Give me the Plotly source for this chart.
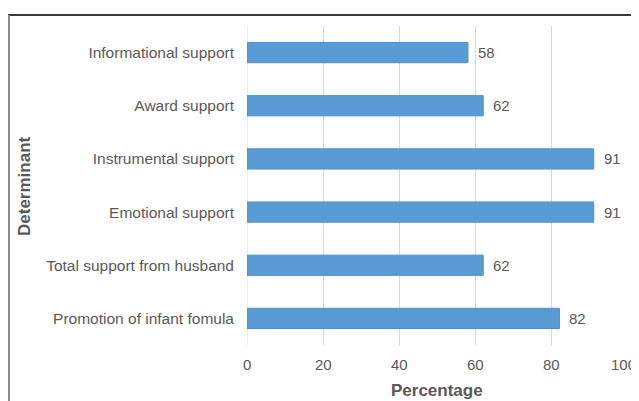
import plotly.graph_objects as go

categories = [
    "Informational support",
    "Award support",
    "Instrumental support",
    "Emotional support",
    "Total support from husband",
    "Promotion of infant fomula",
]
values = [58, 62, 91, 91, 62, 82]
x_ticks = [0, 20, 40, 60, 80, 100]

# the page adds an 8px body margin, so the figure is 8px smaller
W, H = 631, 393
ML, MR, MT, MB = 239, 11, 18, 56
pw = W - ML - MR
ph = H - MT - MB

font_family = "Liberation Sans, Arial, sans-serif"
txt_col = "#595959"

fig = go.Figure()
fig.add_trace(go.Bar(
    y=categories,
    x=values,
    orientation="h",
    width=0.38,
    marker=dict(color="#5b9bd5", line=dict(color="#4f8fcc", width=1)),
    hoverinfo="x+y",
))

for c, v in zip(categories, values):
    fig.add_annotation(x=v, y=c, text=str(v), showarrow=False,
                       xanchor="left", xshift=8,
                       font=dict(family=font_family, size=15, color=txt_col))

def px_x(p):
    return (p - ML) / pw

def px_y(p):
    return (H - MB - p) / ph

# x tick labels drawn as annotations; the last one is kept inside the edge
for t in x_ticks:
    last = t == x_ticks[-1]
    fig.add_annotation(x=t, xref="x", yref="paper", y=px_y(357),
                       text=str(t), showarrow=False,
                       xanchor="right" if last else "center",
                       xshift=10 if last else 0,
                       yanchor="middle",
                       font=dict(family=font_family, size=15, color=txt_col))

# axis titles
fig.add_annotation(xref="paper", yref="paper", x=px_x(429), y=px_y(382),
                   text="<b>Percentage</b>", showarrow=False,
                   xanchor="center", yanchor="middle",
                   font=dict(family=font_family, size=17, color=txt_col))
fig.add_annotation(xref="paper", yref="paper", x=px_x(17), y=px_y(178),
                   text="<b>Determinant</b>", showarrow=False, textangle=-90,
                   xanchor="center", yanchor="middle",
                   font=dict(family=font_family, size=17, color=txt_col))

# outer frame lines
fig.add_shape(type="line", xref="paper", yref="paper",
              x0=px_x(0), x1=px_x(W + 2), y0=px_y(7), y1=px_y(7),
              line=dict(color="#3a3a3a", width=2))
fig.add_shape(type="line", xref="paper", yref="paper",
              x0=px_x(1), x1=px_x(1), y0=px_y(7), y1=px_y(H + 2),
              line=dict(color="#8a8a8a", width=2))
# x=0 gridline
fig.add_shape(type="line", xref="x", yref="paper", x0=0, x1=0, y0=0, y1=1,
              line=dict(color="#d9d9d9", width=1), layer="below")

fig.update_layout(
    width=W, height=H,
    margin=dict(l=ML, r=MR, t=MT, b=MB, pad=0),
    paper_bgcolor="white", plot_bgcolor="white",
    showlegend=False,
    font=dict(family=font_family, size=15, color=txt_col),
    xaxis=dict(
        range=[0, 100], tickvals=x_ticks, showticklabels=False,
        showgrid=True, gridcolor="#d9d9d9", gridwidth=1,
        zeroline=False, showline=False, ticks="",
    ),
    yaxis=dict(
        autorange="reversed",
        showgrid=False, zeroline=False, showline=False, ticks="",
        tickfont=dict(family=font_family, size=15.5, color=txt_col),
        ticklabelstandoff=12,
    ),
)

fig.write_html("out.html")
